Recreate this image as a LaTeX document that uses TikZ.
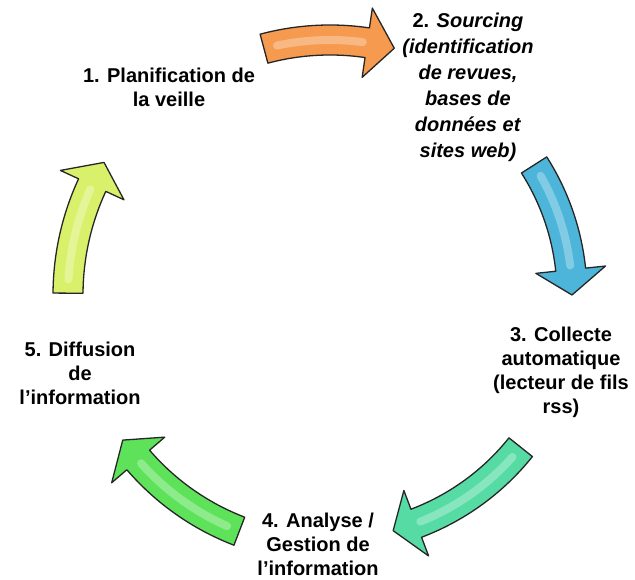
\documentclass[tikz,border=0pt]{standalone}
\usepackage{fontspec}
\setmainfont{Liberation Sans}
\usepackage{tikz}
\definecolor{veilleorange}{HTML}{F59A4F}
\definecolor{veilleblue}{HTML}{4CB5D9}
\definecolor{veilleteal}{HTML}{55DBA3}
\definecolor{veillegreen}{HTML}{5EE25A}
\definecolor{veilleyellow}{HTML}{D9F06B}
\tikzstyle{Step}=[inner sep=0, align=center, font=\fontsize{20}{24}\selectfont\bfseries]
\tikzstyle{Arrow}=[draw=black!85, line width=1.3, line join=round]
\tikzstyle{Gloss}=[line width=8, line cap=round, opacity=0.5]
% #1 colour, #2 tail angle, #3 head base angle, #4 tip angle, #5 radius
\newcommand{\veillearrow}[5]{%
  \filldraw[Arrow, fill=#1] (#2:#5+15) arc[start angle=#2, end angle=#3, radius=#5+15]
    -- (#3:#5+35) -- (#4:#5) -- (#3:#5-35) -- (#3:#5-15)
    arc[start angle=#3, end angle=#2, radius=#5-15] -- cycle;
  \draw[Gloss, #1!40!white] (#2-3:#5) arc[start angle=#2-3, end angle=#3+1, radius=#5];
}

\begin{document}
\begin{tikzpicture}[x=1pt, y=1pt]
    \useasboundingbox[fill=white] (0,0) rectangle (635,580);
    \path
    (169,493) node[Step] (plan) {1. Planification de\\la veille}
    (468,493) node[Step, font=\fontsize{20}{26}\selectfont\bfseries] (sourcing)
        {2. \textit{Sourcing}\\\textit{(identification}\\\textit{de revues,}\\\textit{bases de}\\\textit{données et}\\\textit{sites web)}}
    (561,208) node[Step] (collecte) {3. Collecte\\automatique\\(lecteur de fils\\rss)}
    (318,36) node[Step] (analyse) {4. Analyse /\\Gestion de\\l’information}
    (80,207) node[Step] (diffusion) {5. Diffusion\\de\\l’information};

    \begin{scope}[shift={(330,285)}]
    \coordinate (hub) at (0,0);
    \veillearrow{veilleorange}{105}{81.6}{75.4}{255}
    \veillearrow{veilleblue}{32.5}{6}{0}{242}
    \veillearrow{veilleteal}{-38.6}{-69.3}{-75}{244}
    \veillearrow{veillegreen}{-111}{-139.3}{-145}{253}
    \veillearrow{veilleyellow}{179.6}{155.2}{149.6}{262}
    \end{scope}
\end{tikzpicture}
\end{document}
